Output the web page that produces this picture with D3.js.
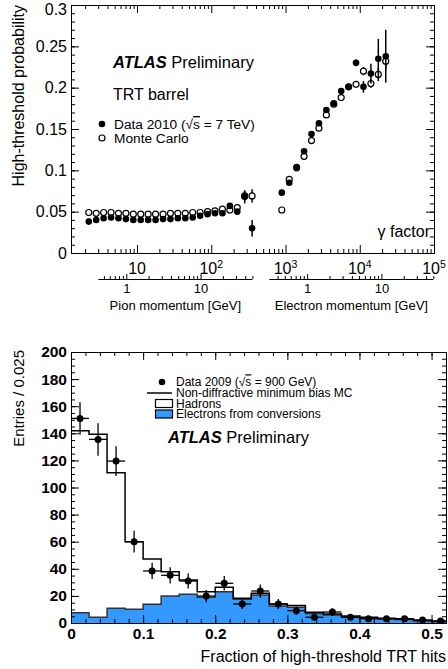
<!DOCTYPE html>
<meta charset="utf-8">
<script src="https://d3js.org/d3.v7.min.js"></script>
<style>
  body { margin: 0; background: #fff; }
  text { font-family: "Liberation Sans", Arial, Helvetica, sans-serif; fill: #000; }
</style>
<div id="chart"></div>
<script>

// ---------- top panel: high-threshold probability vs Lorentz gamma factor
var pionGamma = [2.239, 2.818, 3.548, 4.467, 5.623, 7.079, 8.913, 11.22, 14.13, 17.78, 22.39, 28.18,
                 35.48, 44.67, 56.23, 70.79, 89.13, 112.2, 141.3, 177.8, 223.9, 281.8, 354.8];
var pionData = [0.038, 0.040, 0.042, 0.043, 0.042, 0.041, 0.040, 0.040, 0.040, 0.040, 0.041, 0.041,
                0.042, 0.042, 0.043, 0.045, 0.047, 0.048, 0.048, 0.057, 0.050, 0.068, 0.030];
var pionDataErr = [0.001, 0.001, 0.001, 0.001, 0.001, 0.001, 0.001, 0.001, 0.001, 0.001, 0.001, 0.001,
                   0.001, 0.001, 0.001, 0.001, 0.001, 0.002, 0.002, 0.003, 0.003, 0.008, 0.010];
var pionMC = [0.049, 0.048, 0.049, 0.049, 0.048, 0.048, 0.047, 0.047, 0.047, 0.047, 0.047, 0.048,
              0.048, 0.048, 0.049, 0.049, 0.050, 0.051, 0.053, 0.052, 0.055, 0.069, 0.069];
var pionMCErr = [0.001, 0.001, 0.001, 0.001, 0.001, 0.001, 0.001, 0.001, 0.001, 0.001, 0.001, 0.001,
                 0.001, 0.001, 0.001, 0.001, 0.001, 0.001, 0.002, 0.002, 0.003, 0.006, 0.008];

var elecGamma = [891.3, 1122, 1413, 1778, 2239, 2818, 3548, 4467, 5623, 7079, 8913, 11220, 14130, 17780, 22390];
var elecData = [0.073, 0.085, 0.104, 0.123, 0.144, 0.157, 0.173, 0.181, 0.196, 0.201, 0.230, 0.201, 0.217, 0.235, 0.238];
var elecDataErr = [0.003, 0.002, 0.002, 0.002, 0.002, 0.002, 0.002, 0.002, 0.002, 0.002, 0.004, 0.007, 0.012, 0.024, 0.032];
var elecMC = [0.052, 0.089, 0.103, 0.117, 0.136, 0.151, 0.167, 0.180, 0.188, 0.201, 0.204, 0.220, 0.205, 0.216, 0.232];
var elecMCErr = [0.002, 0.002, 0.002, 0.002, 0.002, 0.002, 0.002, 0.002, 0.002, 0.002, 0.003, 0.005, 0.005, 0.008, 0.010];

var topYTicks = [0, 0.05, 0.1, 0.15, 0.2, 0.25, 0.3];
var topYLabels = ["0", "0.05", "0.1", "0.15", "0.2", "0.25", "0.3"];
var gammaTicks = [10, 100, 1000, 10000, 100000];
var gammaExp = ["", "2", "3", "4", "5"];
var momTicks = [1, 10];
var momLabels = ["1", "10"];

// ---------- bottom panel: fraction of high-threshold hits
var binEdges = [0, 0.025, 0.05, 0.075, 0.1, 0.125, 0.15, 0.175, 0.2, 0.225, 0.25, 0.275,
                0.3, 0.325, 0.35, 0.375, 0.4, 0.425, 0.45, 0.475, 0.5, 0.525];
var mcTotal = [141.9, 139.3, 110.9, 60.0, 47.2, 37.9, 31.7, 23.1, 26.3, 18.2, 21.9,
               14.0, 13.0, 7.9, 6.6, 5.2, 4.2, 3.5, 2.9, 1.9, 1.2];
var mcElectrons = [7.6, 4.2, 10.8, 10.1, 13.8, 19.9, 21.2, 19.0, 23.1, 17.5, 20.7,
                   12.5, 11.6, 7.1, 5.9, 4.7, 3.8, 3.0, 2.5, 1.6, 0.9];
var data2009 = [151, 135.5, 119.5, 60.0, 38.4, 35.2, 31.0, 19.9, 29.3, 14.0, 23.6,
                14.0, 9.1, 4.2, 8.1, 4.2, 3.2, 3.2, 3.2, 2.2, 1.5];
var data2009Err = [12, 12, 11, 8, 6, 6, 5.5, 4.5, 5.4, 3.7, 4.9, 3.7, 3, 2, 2.8, 2, 1.8, 1.8, 1.8, 1.5, 1.2];
var botXTicks = [0, 0.1, 0.2, 0.3, 0.4, 0.5];
var botXLabels = ["0", "0.1", "0.2", "0.3", "0.4", "0.5"];
var botYTicks = [0, 20, 40, 60, 80, 100, 120, 140, 160, 180, 200];

var M_PION = 0.13957, M_ELEC = 0.000511;   // GeV, for the momentum axes

var svg = d3.select("#chart").append("svg")
    .attr("width", 448).attr("height", 669);

// draw ticks with a d3 axis, no domain line (frame is drawn separately)
function ticks(gen, tx, ty, vals, size, fmt, pad) {
  var g = svg.append("g")
    .attr("transform", "translate(" + tx + "," + ty + ")")
    .call(gen.tickValues(vals).tickSize(size).tickSizeOuter(0)
             .tickFormat(fmt || "").tickPadding(pad || 3));
  g.select(".domain").remove();
  g.attr("font-family", null).attr("font-size", null);
  return g;
}
function logMinors(dom) {
  var out = [];
  for (var e = -1; e <= 5; e++)
    for (var m = 2; m <= 9; m++) {
      var v = m * Math.pow(10, e);
      if (v > dom[0] && v < dom[1]) out.push(v);
    }
  return out;
}
function linMinors(lo, hi, step) {
  var out = [];
  for (var v = lo; v <= hi + 1e-9; v += step) out.push(+v.toFixed(4));
  return out;
}

// ================= TOP PANEL =================
var xTop = d3.scaleLog().domain([1.29, 1e5]).range([71, 434]);
var yTop = d3.scaleLinear().domain([0, 0.3]).range([253, 5]);

var gMinor = logMinors(xTop.domain());
ticks(d3.axisBottom(xTop), 0, 253, gMinor, -4);
ticks(d3.axisBottom(xTop), 0, 253, gammaTicks, -8);
ticks(d3.axisTop(xTop), 0, 5, gMinor, -4);
ticks(d3.axisTop(xTop), 0, 5, gammaTicks, -8);
ticks(d3.axisLeft(yTop), 71, 0, linMinors(0, 0.3, 0.01), -4);
var yl = ticks(d3.axisLeft(yTop), 71, 0, topYTicks, -8, function(d, i) { return topYLabels[i]; }, 4);
yl.selectAll("text").attr("font-size", 16);
yl.selectAll("text").filter(function(d) { return d === 0.3; }).attr("dy", "0.62em");
ticks(d3.axisRight(yTop), 434, 0, linMinors(0, 0.3, 0.01), -4);
ticks(d3.axisRight(yTop), 434, 0, topYTicks, -8);

svg.append("rect").attr("x", 71.5).attr("y", 5.5).attr("width", 363).attr("height", 248)
  .attr("fill", "none").attr("stroke", "#000");

// gamma labels with exponents
var gl = svg.append("g").selectAll("text").data(gammaTicks).enter().append("text")
  .attr("x", function(d) { return xTop(d); })
  .attr("y", 274)
  .attr("text-anchor", "middle")
  .attr("font-size", 16);
gl.append("tspan").text("10");
gl.append("tspan").attr("dy", -6).attr("font-size", 10.5).text(function(d, i) { return gammaExp[i]; });

// momentum axes under the gamma axis
function momAxis(mass, range, title) {
  var y0 = 279;
  var x0 = xTop(range[0] / mass), x1 = xTop(range[1] / mass);
  svg.append("line").attr("x1", x0).attr("x2", x1).attr("y1", y0 + 0.5).attr("y2", y0 + 0.5)
    .attr("stroke", "#000");
  var pScale = d3.scaleLog().domain(range).range([x0, x1]);
  ticks(d3.axisBottom(pScale), 0, y0, logMinors(range).concat([range[1]]), -3);
  ticks(d3.axisBottom(pScale), 0, y0, momTicks, -5, function(d, i) { return momLabels[i]; }, 5)
    .selectAll("text").attr("font-size", 13);
  svg.append("text").attr("x", (x0 + x1) / 2).attr("y", 310)
    .attr("text-anchor", "middle").attr("font-size", 13).text(title);
}
momAxis(M_PION, [0.42, 50], "Pion momentum [GeV]");
momAxis(M_ELEC, [0.31, 50], "Electron momentum [GeV]");

// points with vertical error bars
function graph(xs, ys, es, filled) {
  var g = svg.append("g");
  var pts = xs.map(function(x, i) { return {x: x, y: ys[i], e: es[i]}; });
  g.selectAll("line").data(pts).enter().append("line")
    .attr("x1", function(d) { return xTop(d.x); }).attr("x2", function(d) { return xTop(d.x); })
    .attr("y1", function(d) { return yTop(d.y - d.e); }).attr("y2", function(d) { return yTop(d.y + d.e); })
    .attr("stroke", "#000").attr("stroke-width", 1.5);
  g.selectAll("circle").data(pts).enter().append("circle")
    .attr("cx", function(d) { return xTop(d.x); })
    .attr("cy", function(d) { return yTop(d.y); })
    .attr("r", filled ? 3.3 : 3)
    .attr("fill", filled ? "#000" : "#fff")
    .attr("stroke", "#000").attr("stroke-width", filled ? 0 : 1.2);
}
graph(pionGamma, pionMC, pionMCErr, false);
graph(elecGamma, elecMC, elecMCErr, false);
graph(pionGamma, pionData, pionDataErr, true);
graph(elecGamma, elecData, elecDataErr, true);

// labels
svg.append("text").attr("transform", "translate(24,5) rotate(-90)")
  .attr("text-anchor", "end").attr("font-size", 16).text("High-threshold probability");
var atl = svg.append("text").attr("x", 113).attr("y", 68).attr("font-size", 16.5);
atl.append("tspan").attr("font-weight", "bold").attr("font-style", "italic").text("ATLAS");
atl.append("tspan").text(" Preliminary");
svg.append("text").attr("x", 113).attr("y", 100).attr("font-size", 16).text("TRT barrel");
svg.append("circle").attr("cx", 102).attr("cy", 124).attr("r", 3.3).attr("fill", "#000");
var l1 = svg.append("text").attr("x", 114).attr("y", 129).attr("font-size", 13.7);
l1.append("tspan").text("Data 2010 (\u221A");
l1.append("tspan").style("text-decoration", "overline").text("s");
l1.append("tspan").text(" = 7 TeV)");
svg.append("circle").attr("cx", 102).attr("cy", 138).attr("r", 3)
  .attr("fill", "#fff").attr("stroke", "#000").attr("stroke-width", 1.2);
svg.append("text").attr("x", 114).attr("y", 143).attr("font-size", 13.7).text("Monte Carlo");
svg.append("text").attr("x", 430).attr("y", 237).attr("text-anchor", "end")
  .attr("font-size", 16).text("\u03B3 factor");

// ================= BOTTOM PANEL =================
var xBot = d3.scaleLinear().domain([0, 0.52]).range([71, 446]);
var yBot = d3.scaleLinear().domain([0, 200]).range([623, 352]);

svg.append("clipPath").attr("id", "frame2").append("rect")
  .attr("x", 71).attr("y", 352).attr("width", 375).attr("height", 271);

function steps(vals) {
  var pts = vals.map(function(v, i) { return {x: binEdges[i], y: v}; });
  pts.push({x: binEdges[vals.length], y: vals[vals.length - 1]});
  return pts;
}
var area = d3.area().curve(d3.curveStepAfter)
  .x(function(d) { return xBot(d.x); }).y0(yBot(0)).y1(function(d) { return yBot(d.y); });
var line = d3.line().curve(d3.curveStepAfter)
  .x(function(d) { return xBot(d.x); }).y(function(d) { return yBot(d.y); });

var hist = svg.append("g").attr("clip-path", "url(#frame2)");
hist.append("path").datum(steps(mcTotal)).attr("d", area).attr("fill", "#fff");
hist.append("path").datum(steps(mcElectrons)).attr("d", area).attr("fill", "#3399ff");
hist.append("path").datum(steps(mcElectrons)).attr("d", line)
  .attr("fill", "none").attr("stroke", "#333").attr("stroke-width", 1.5);
hist.append("path").datum(steps(mcTotal)).attr("d", line)
  .attr("fill", "none").attr("stroke", "#000").attr("stroke-width", 1.5);

// data points
var dpts = data2009.map(function(v, i) {
  return {x0: binEdges[i], x1: binEdges[i + 1], y: v, e: data2009Err[i]};
});
var dg = svg.append("g").attr("clip-path", "url(#frame2)");
dg.selectAll(".ex").data(dpts).enter().append("line")
  .attr("x1", function(d) { return xBot(d.x0); }).attr("x2", function(d) { return xBot(d.x1); })
  .attr("y1", function(d) { return yBot(d.y); }).attr("y2", function(d) { return yBot(d.y); })
  .attr("stroke", "#000").attr("stroke-width", 1.3);
dg.selectAll(".ey").data(dpts).enter().append("line")
  .attr("x1", function(d) { return xBot((d.x0 + d.x1) / 2); }).attr("x2", function(d) { return xBot((d.x0 + d.x1) / 2); })
  .attr("y1", function(d) { return yBot(d.y - d.e); }).attr("y2", function(d) { return yBot(d.y + d.e); })
  .attr("stroke", "#000").attr("stroke-width", 1.3);
dg.selectAll("circle").data(dpts).enter().append("circle")
  .attr("cx", function(d) { return xBot((d.x0 + d.x1) / 2); })
  .attr("cy", function(d) { return yBot(d.y); })
  .attr("r", 3.5).attr("fill", "#000");

// axes
ticks(d3.axisBottom(xBot), 0, 623, linMinors(0, 0.52, 0.02), -4);
ticks(d3.axisBottom(xBot), 0, 623, botXTicks, -8, function(d, i) { return botXLabels[i]; }, 5)
  .selectAll("text").attr("font-size", 15.5).attr("font-weight", "bold");
ticks(d3.axisTop(xBot), 0, 352, linMinors(0, 0.52, 0.02), -4);
ticks(d3.axisTop(xBot), 0, 352, botXTicks, -8);
ticks(d3.axisLeft(yBot), 71, 0, linMinors(0, 200, 5), -4);
ticks(d3.axisLeft(yBot), 71, 0, botYTicks, -8, String, 4)
  .selectAll("text").attr("font-size", 15.5).attr("font-weight", "bold");
ticks(d3.axisRight(yBot), 446, 0, linMinors(0, 200, 5), -4);
ticks(d3.axisRight(yBot), 446, 0, botYTicks, -8);
svg.append("rect").attr("x", 71.5).attr("y", 352.5).attr("width", 375).attr("height", 271)
  .attr("fill", "none").attr("stroke", "#000");

svg.append("text").attr("transform", "translate(24,350) rotate(-90)")
  .attr("text-anchor", "end").attr("font-size", 15).text("Entries / 0.025");
svg.append("text").attr("x", 446).attr("y", 662).attr("text-anchor", "end")
  .attr("font-size", 16).text("Fraction of high-threshold TRT hits");

// legend
var lg = svg.append("g").attr("font-size", 12);
lg.append("circle").attr("cx", 162).attr("cy", 382).attr("r", 3.3).attr("fill", "#000");
var t1 = lg.append("text").attr("x", 176).attr("y", 386.3);
t1.append("tspan").text("Data 2009 (\u221A");
t1.append("tspan").style("text-decoration", "overline").text("s");
t1.append("tspan").text(" = 900 GeV)");
lg.append("line").attr("x1", 147).attr("x2", 172).attr("y1", 393).attr("y2", 393)
  .attr("stroke", "#000").attr("stroke-width", 1.5);
lg.append("text").attr("x", 176).attr("y", 397.3).text("Non-diffractive minimum bias MC");
lg.append("rect").attr("x", 155.5).attr("y", 399.5).attr("width", 17).attr("height", 8)
  .attr("fill", "#fff").attr("stroke", "#000").attr("stroke-width", 1.2);
lg.append("text").attr("x", 176).attr("y", 407.8).text("Hadrons");
lg.append("rect").attr("x", 155.5).attr("y", 410).attr("width", 17).attr("height", 8)
  .attr("fill", "#3399ff").attr("stroke", "#000").attr("stroke-width", 1.2);
lg.append("text").attr("x", 176).attr("y", 418.3).text("Electrons from conversions");
var at2 = svg.append("text").attr("x", 168).attr("y", 443).attr("font-size", 16.5);
at2.append("tspan").attr("font-weight", "bold").attr("font-style", "italic").text("ATLAS");
at2.append("tspan").text(" Preliminary");

</script>
